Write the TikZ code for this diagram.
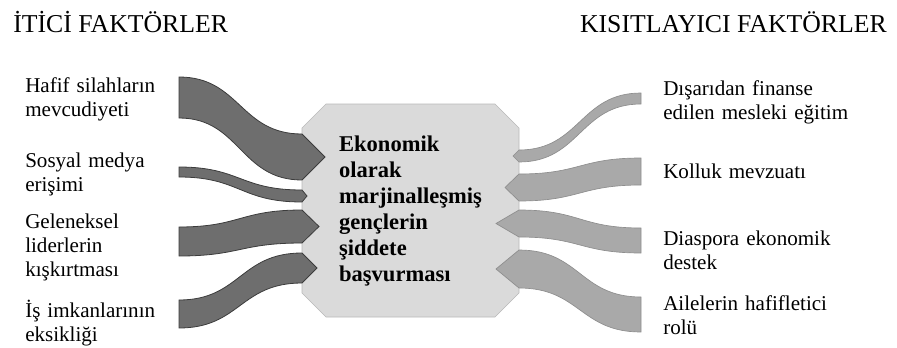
\documentclass[tikz,border=0pt]{standalone}
\usepackage{fontspec}
\setmainfont{Liberation Serif}
\usetikzlibrary{shapes.misc}
\definecolor{pushgray}{HTML}{6E6E6E}
\definecolor{pushedge}{HTML}{3C3C3C}
\definecolor{holdgray}{HTML}{A9A9A9}
\definecolor{holdedge}{HTML}{8E8E8E}
\definecolor{coregray}{HTML}{DADADA}
\tikzset{
	headline/.style={anchor=base west,inner sep=0pt,font=\fontsize{19.3}{23}\selectfont},
	factor/.style={anchor=base west,inner sep=0pt,text width=150pt,align=left,font=\fontsize{15.8}{18}\selectfont},
	push/.style={fill=pushgray,draw=pushedge,line width=.6pt},
	hold/.style={fill=holdgray,draw=holdedge,line width=.5pt}
}
\begin{document}
\begin{tikzpicture}[x=.75pt,y=-.75pt]
	\useasboundingbox (0,0) rectangle (897,347);

	\node[headline] (pushtitle) at (13,32) {İTİCİ FAKTÖRLER};
	\node[headline,anchor=base east] (holdtitle) at (887,32) {KISITLAYICI FAKTÖRLER};

	\node[chamfered rectangle,chamfered rectangle xsep=8pt,chamfered rectangle ysep=10pt,
		minimum width=162.75pt,minimum height=159.75pt,fill=coregray,draw=coregray!85!black,line width=.4pt,
		align=left,font=\bfseries\fontsize{16.9}{19.5}\selectfont] (core) at (410.5,210.5)
		{Ekonomik\\olarak\\marjinalleşmiş\\gençlerin\\şiddete\\başvurması};

	% iten etkenler
	\foreach \ta/\ba/\tb/\bb/\xt in {77/118/134/180/325,167/177/190/202/307,227/256/210/243/319,300/328/253/283/317}
	\draw[push] (179,\ta) .. controls (240,\ta) and (240,\tb) .. (302,\tb) -- (\xt,{(\tb+\bb)/2})
		-- (302,\bb) .. controls (240,\bb) and (240,\ba) .. (179,\ba) -- cycle;

	% kisitlayan etkenler
	\foreach \ta/\ba/\tb/\bb/\xt in {93/104/150/162/513,158/185/174/201/505,228/253/210/237/496,297/332/250/288/496}
	\draw[hold] (641,\ta) .. controls (580,\ta) and (580,\tb) .. (519,\tb) -- (\xt,{(\tb+\bb)/2})
		-- (519,\bb) .. controls (580,\bb) and (580,\ba) .. (641,\ba) -- cycle;

	\foreach \y/\t[count=\i] in {92/{Hafif silahların\\mevcudiyeti},167/{Sosyal medya\\erişimi},
			228/{Geleneksel\\liderlerin\\kışkırtması},317/{İş imkanlarının\\eksikliği}}
	\node[factor] (push\i) at (25,\y) {\t};

	\foreach \y/\t[count=\i] in {95/{Dışarıdan finanse\\edilen mesleki eğitim},178/{Kolluk mevzuatı},
			245/{Diaspora ekonomik\\destek},310/{Ailelerin hafifletici\\rolü}}
	\node[factor] (hold\i) at (663,\y) {\t};
\end{tikzpicture}
\end{document}
